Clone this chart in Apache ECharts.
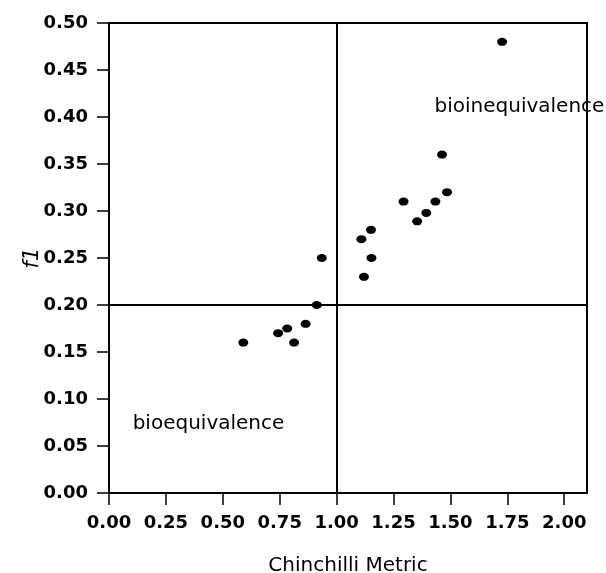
<!DOCTYPE html>
<html>
<head>
<meta charset="utf-8">
<script src="https://cdn.jsdelivr.net/npm/echarts@6/dist/echarts.min.js"></script>
<style>
html,body{margin:0;padding:0;background:#fff;}
#chart{width:606px;height:573px;}
</style>
</head>
<body>
<div id="chart"></div>
<script>
// Data
var chinchilli = [1.727, 1.463, 1.485, 1.294, 1.434, 1.394, 1.354, 1.151, 1.109, 1.153, 1.120, 0.935, 0.913, 0.864, 0.783, 0.743, 0.813, 0.590];
var f1Values   = [0.480, 0.360, 0.320, 0.310, 0.310, 0.298, 0.289, 0.280, 0.270, 0.250, 0.230, 0.250, 0.200, 0.180, 0.175, 0.170, 0.160, 0.160];
var xTicks = [0, 0.25, 0.5, 0.75, 1.0, 1.25, 1.5, 1.75, 2.0];
var yTicks = [0, 0.05, 0.1, 0.15, 0.2, 0.25, 0.3, 0.35, 0.4, 0.45, 0.5];
var refX = 1.0;
var refY = 0.202;
var annotations = [
  [0.104, 0.074, 'bioequivalence'],
  [1.43, 0.411, 'bioinequivalence']
];

var FONT = 'DejaVu Sans';
var points = chinchilli.map(function (x, i) { return [x, f1Values[i]]; });

var chart = echarts.init(document.getElementById('chart'), null, {renderer: 'canvas'});
chart.setOption({
  backgroundColor: '#fff',
  animation: false,
  grid: {
    left: 109, right: 19, top: 23, bottom: 80,
    containLabel: false, outerBoundsMode: 'none',
    show: true, borderColor: '#000', borderWidth: 2, backgroundColor: 'transparent'
  },
  xAxis: {
    type: 'value', min: 0, max: 2.1,
    name: 'Chinchilli Metric', nameLocation: 'middle', nameGap: 63,
    nameTextStyle: {fontFamily: FONT, fontSize: 20, color: '#000'},
    axisLine: {show: true, onZero: false, lineStyle: {color: '#000', width: 2}},
    axisTick: {show: true, inside: false, length: 12, customValues: xTicks, lineStyle: {color: '#000', width: 1.5}},
    axisLabel: {show: true, customValues: xTicks, margin: 21, fontFamily: FONT, fontSize: 18, fontWeight: 'bold', color: '#000',
      formatter: function (v) { return Number(v).toFixed(2); }},
    splitLine: {show: false}
  },
  yAxis: {
    type: 'value', min: 0, max: 0.5, interval: 0.05,
    name: 'f1', nameLocation: 'middle', nameGap: 66, nameRotate: 90, nameMoveOverlap: false,
    nameTextStyle: {fontFamily: FONT, fontSize: 21, fontStyle: 'italic', color: '#000'},
    axisLine: {show: true, onZero: false, lineStyle: {color: '#000', width: 2}},
    axisTick: {show: true, inside: false, length: 12, customValues: yTicks, lineStyle: {color: '#000', width: 1.5}},
    axisLabel: {show: true, customValues: yTicks, margin: 21, fontFamily: FONT, fontSize: 18, fontWeight: 'bold', color: '#000',
      formatter: function (v) { return Number(v).toFixed(2); }},
    splitLine: {show: false}
  },
  series: [
    {
      type: 'scatter',
      data: points,
      symbol: 'circle',
      symbolSize: [10, 8],
      itemStyle: {color: '#000', opacity: 1},
      silent: true,
      markLine: {
        silent: true,
        symbol: ['none', 'none'],
        label: {show: false},
        lineStyle: {color: '#000', width: 2, type: 'solid', opacity: 1},
        data: [{xAxis: refX}, {yAxis: refY}]
      }
    },
    {
      type: 'scatter',
      data: annotations,
      symbolSize: 0,
      silent: true,
      label: {
        show: true, position: 'right', distance: 0,
        fontFamily: FONT, fontSize: 20, color: '#000', opacity: 1,
        formatter: function (p) { return p.data[2]; }
      },
      z: 5
    }
  ]
});
</script>
</body>
</html>
